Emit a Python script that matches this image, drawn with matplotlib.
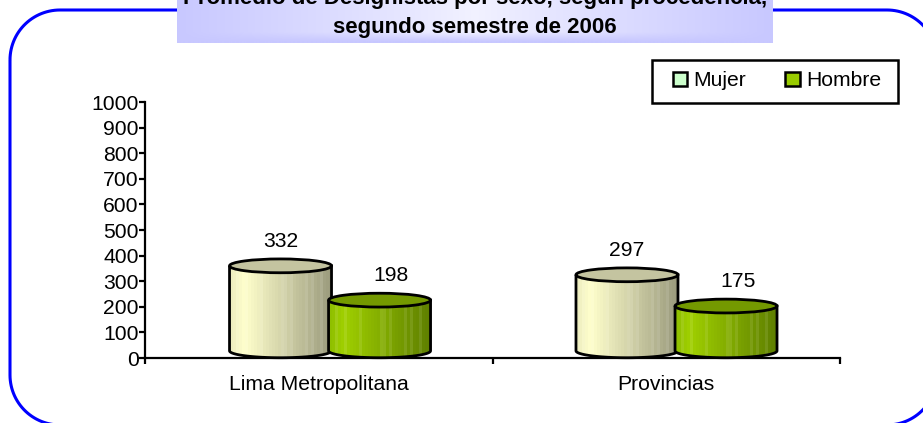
import numpy as np
import matplotlib
matplotlib.use("Agg")
import matplotlib.pyplot as plt
from matplotlib.patches import Rectangle, Ellipse, PathPatch, Patch
from matplotlib.path import Path
from matplotlib.colors import to_rgb

categories = ["Lima Metropolitana", "Provincias"]
mujer = [332, 297]
hombre = [198, 175]
y_ticks = list(range(0, 1001, 100))
title_lines = ["Promedio de Designistas por sexo, según procedencia,",
               "segundo semestre de 2006"]

plt.rcParams["font.family"] = ["Liberation Sans", "DejaVu Sans"]
W, H = 923, 423
FS = 15.2
fig = plt.figure(figsize=(W / 100, H / 100), dpi=100)
fig.patch.set_facecolor("white")

# page layer in pixel coordinates
ov = fig.add_axes([0, 0, 1, 1], zorder=0)
ov.set_xlim(0, W); ov.set_ylim(H, 0); ov.axis("off")


def round_frame(l, t, r, b, rad):
    pts = []
    for cx, cy, a0 in ((l + rad, t + rad, 180), (r - rad, t + rad, 270),
                       (r - rad, b - rad, 0), (l + rad, b - rad, 90)):
        th = np.radians(np.linspace(a0, a0 + 90, 30))
        pts += list(zip(cx + rad * np.cos(th), cy + rad * np.sin(th)))
    pts.append(pts[0])
    return Path(pts)


ov.add_patch(PathPatch(round_frame(10, 10, 937, 425, 50), fc="white", ec="#0000FF", lw=2.2))
# title box
bx = np.linspace(0, 1, 300)
by = np.linspace(0, 1, 43)
edge, mid = np.array(to_rgb("#C8C8FF")), np.array(to_rgb("#F2F2FF"))
hgrad = 1 - np.abs(bx * 2 - 1) ** 0.9
fade = np.clip((by - 0.75) / 0.22, 0, 1)
img = np.zeros((43, 300, 3))
for i in range(43):
    t = hgrad * (1 - fade[i])
    img[i] = edge + (mid - edge) * t[:, None]
ov.imshow(img, extent=(177, 773, 43, 0), aspect="auto", zorder=3)
ov.set_xlim(0, W); ov.set_ylim(H, 0)
ov.text(475, 4, title_lines[0], ha="center", va="baseline", fontsize=16,
        fontweight="bold", zorder=4)
ov.text(475, 33, title_lines[1], ha="center", va="baseline", fontsize=16,
        fontweight="bold", zorder=4)
# legend frame
ov.add_patch(Rectangle((652, 60), 246, 43, fc="white", ec="black", lw=1.8, zorder=3))

# chart
x0, x1, ytop, ybot = 145, 840, 102, 358
ax = fig.add_axes([x0 / W, 1 - ybot / H, (x1 - x0) / W, (ybot - ytop) / H], zorder=2)
ax.patch.set_alpha(0)
ax.set_xlim(0, len(categories)); ax.set_ylim(0, 1000)
for s in ("top", "right"):
    ax.spines[s].set_visible(False)
for s in ("left", "bottom"):
    ax.spines[s].set_linewidth(1.6)
ax.set_yticks(y_ticks)
ax.tick_params(axis="y", length=4, width=1.6, labelsize=FS, pad=0.5)
ax.set_xticks(range(len(categories) + 1))
ax.set_xticklabels([])
ax.tick_params(axis="x", which="major", length=4, width=1.6)
ax.set_xticks([i + 0.5 for i in range(len(categories))], minor=True)
ax.set_xticklabels(categories, minor=True, fontsize=FS)
ax.tick_params(axis="x", which="minor", length=0, pad=12.5)

base = 28        # floor of the 3D cylinders, in axis units
bw = 0.2935      # cylinder width
eh = 54          # ellipse height, in axis units
stripes = [0.09, 0.16, 0.33, 0.52, 0.57, 0.63, 0.76, 0.84, 0.92]


def side_image(left, mid_c, right):
    u = np.linspace(0, 1, 34)
    cols = np.array([to_rgb(left), to_rgb(mid_c), to_rgb(right)])
    row = np.stack([np.interp(u, [0, 0.13, 1], cols[:, k]) for k in range(3)], axis=1)
    for s in stripes:
        j = int(s * 33)
        row[j] = row[j] + (1 - row[j]) * 0.09
    return row[None, :, :]


def cylinder(xc, val, side, top, z):
    l, r = xc - bw / 2, xc + bw / 2
    t = base + val
    th = np.linspace(np.pi, 2 * np.pi, 40)
    bx_ = xc + bw / 2 * np.cos(th)
    by_ = base + eh / 2 * np.sin(th)
    verts = [(l, t)] + list(zip(bx_, by_)) + [(r, t), (l, t)]
    path = Path(verts, closed=False)
    im = ax.imshow(side_image(*side), extent=(l, r, base - eh, t), aspect="auto",
                   zorder=z, interpolation="nearest")
    pp = PathPatch(path, fc="none", ec="black", lw=2.0, zorder=z + 0.1, clip_on=False)
    ax.add_patch(pp)
    im.set_clip_path(pp)
    ax.add_patch(Ellipse((xc, t), bw, eh, fc=top, ec="black", lw=2.0, zorder=z + 0.2,
                         clip_on=False))


cream = ("#EDEDC0", "#FFFFCC", "#9C9C7E")
green = ("#8FBF00", "#A0D000", "#5F8000")
for i, (m, h) in enumerate(zip(mujer, hombre)):
    xm, xh = i + 0.39, i + 0.675
    if i == 1:
        xm, xh = i + 0.387, i + 0.672
    cylinder(xm, m, cream, "#C4C4A0", 3)
    cylinder(xh, h, green, "#749900", 4)
    ax.annotate(str(m), (xm, base + m), xytext=(0, 17.5), textcoords="offset points",
                ha="center", va="center", fontsize=FS, zorder=6)
    ax.annotate(str(h), (xh, base + h), xytext=(8.5, 17.5), textcoords="offset points",
                ha="center", va="center", fontsize=FS, zorder=6)
ax.set_xlim(0, len(categories)); ax.set_ylim(0, 1000)

leg = fig.legend(handles=[Patch(fc="#CCFFCC", ec="black", lw=1.8, label="Mujer"),
                          Patch(fc="#99CC00", ec="black", lw=1.8, label="Hombre")],
                 ncol=2, frameon=False, loc="center", bbox_to_anchor=(777 / W, 1 - 81 / H),
                 fontsize=FS, handlelength=0.68, handleheight=0.68, handletextpad=0.3,
                 columnspacing=1.85, borderpad=0, borderaxespad=0)
leg.set_zorder(5)

fig.savefig("out.png", dpi=100)
